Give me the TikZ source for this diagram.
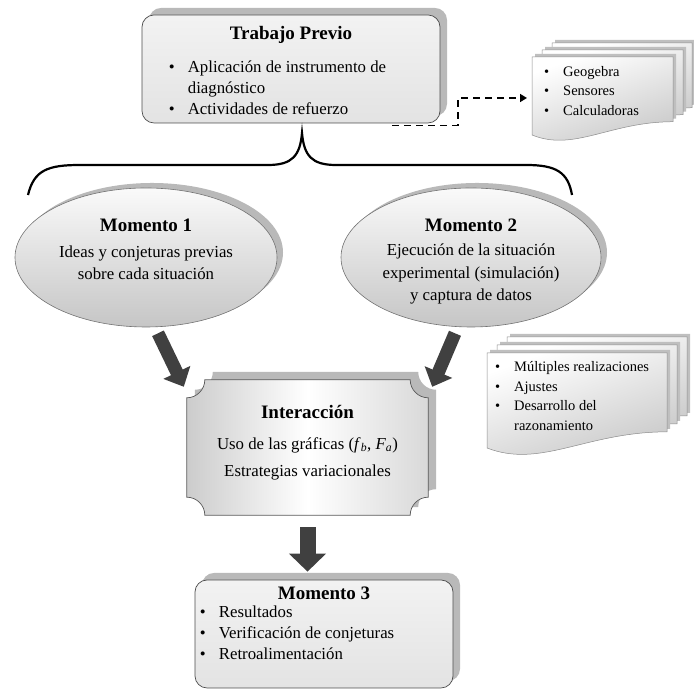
\documentclass[tikz,border=0pt]{standalone}
\usepackage{fontspec}
\setmainfont{Liberation Serif}
\usetikzlibrary{arrows.meta, positioning, shadows, shapes.geometric, calc}

\newcommand{\bul}{\makebox[19pt][l]{\textbullet}}
\newcommand{\sig}{\hspace*{19pt}}
\newcommand{\hoja}[4]{\draw[hoja] (#1,#2) -- ++(#3,0) -- ++(0,-0.83*#4) .. controls +(-0.45*#3,0) and +(0.3*#3,-0.22*#4) .. (#1,#2-#4) -- cycle;}

\begin{document}
\begin{tikzpicture}[x=1pt, y=1pt,
  every node/.style={inner sep=0pt, font=\fontsize{16.8}{21}\selectfont},
  titulo/.style={font=\fontsize{19}{22}\selectfont\bfseries},
  lista/.style={align=left, anchor=north west},
  listachica/.style={lista, font=\fontsize{14.5}{19.5}\selectfont},
  caja/.style={draw=black!70, line width=0.7pt, rounded corners=12pt, top color=gray!10, bottom color=gray!22, drop shadow={shadow xshift=7pt, shadow yshift=7pt, fill=gray!55, opacity=1}},
  ovalo/.style={ellipse, draw=black!55, line width=0.6pt, top color=gray!4, bottom color=gray!45, drop shadow={shadow xshift=6pt, shadow yshift=5pt, fill=gray!55, opacity=1}},
  placa/.style={draw=black!65, line width=0.7pt, left color=gray!40, right color=gray!30, middle color=white, drop shadow={shadow xshift=8pt, shadow yshift=8pt, fill=gray!55, opacity=1}},
  hoja/.style={draw=black!45, line width=0.5pt, top color=white, bottom color=gray!45, shading angle=20, drop shadow={shadow xshift=3pt, shadow yshift=3pt, fill=gray!50, opacity=1}},
  flecha/.style={line width=13pt, draw=black!75, -{Triangle[width=29pt,length=16pt]}},
  enlace/.style={dash pattern=on 7pt off 5pt, line width=1.6pt, -{Triangle[width=8pt,length=7pt]}}]
\useasboundingbox (0,0) rectangle (694,692);

\node[caja, minimum width=298pt, minimum height=108pt] (previo) at (291,623) {};
\node[titulo] (previoT) at ([yshift=-20pt]previo.north) {Trabajo Previo};
\node[lista] (previoL) at ([xshift=27pt, yshift=-46pt]previo.north west) {\bul Aplicación de instrumento de\\ \sig diagnóstico\\ \bul Actividades de refuerzo};

\hoja{552}{649}{140}{78}
\hoja{542}{642}{141}{78}
\hoja{532}{635}{141}{78}
\node[listachica] (geoL) at (544,626) {\bul Geogebra\\ \bul Sensores\\ \bul Calculadoras};
\coordinate (geoE) at (527,594);
\draw[enlace] ([xshift=-48pt, yshift=-2pt]previo.south east) -| ($(geoE)+(-69,0)$) -- (geoE);

\draw[line width=2.2pt] (28,497) .. controls (34,522) and (48,527) .. (80,527) -- (268,527) .. controls (292,527) and (300,536) .. (302,559) .. controls (304,536) and (312,527) .. (336,527) -- (526,527) .. controls (556,527) and (568,520) .. (572,497);

\node[ovalo, minimum width=262pt, minimum height=139pt] (m1) at (146,434.5) {};
\node[titulo] (m1T) at ([yshift=32.5pt]m1.center) {Momento 1};
\node[align=center, font=\fontsize{16.8}{22.5}\selectfont] (m1L) at ([yshift=-5.5pt]m1.center) {Ideas y conjeturas previas\\ sobre cada situación};
\node[ovalo, minimum width=260pt, minimum height=139pt] (m2) at (471,434.5) {};
\node[titulo] (m2T) at ([yshift=32.5pt]m2.center) {Momento 2};
\node[align=center, font=\fontsize{16.8}{22.5}\selectfont] (m2L) at ([yshift=-16.5pt]m2.center) {Ejecución de la situación\\ experimental (simulación)\\ y captura de datos};

\hoja{507}{355}{180}{95}
\hoja{497}{347}{180}{95}
\hoja{487}{339}{180}{95}
\node[listachica] (ajusL) at (495,330.4) {\bul Múltiples realizaciones\\ \bul Ajustes\\ \bul Desarrollo del\\ \sig razonamiento};

\node[minimum width=241pt, minimum height=135pt] (inter) at (307.5,244.5) {};
\draw[placa] ($(inter.north west)+(0,-18)$) arc[start angle=-90, end angle=0, radius=18] -- ($(inter.north east)+(-18,0)$) arc[start angle=180, end angle=270, radius=18] -- ($(inter.south east)+(0,18)$) arc[start angle=90, end angle=180, radius=18] -- ($(inter.south west)+(18,0)$) arc[start angle=0, end angle=90, radius=18] -- cycle;
\node[titulo] (interT) at ([yshift=-32pt]inter.north) {Interacción};
\node[align=center, font=\fontsize{16.8}{27}\selectfont] (interL) at ([yshift=-11pt]inter.center) {Uso de las gráficas (\textit{f}\textsubscript{\textit{b}}, \textit{F}\textsubscript{\textit{a}})\\ Estrategias variacionales};

\draw[flecha] ($(m1.south)+(12,-6)$) -- ($(inter.north west)+(-3,-7)$);
\draw[flecha] ($(m2.south)+(-16,-6)$) -- ($(inter.north east)+(4,-7)$);

\node[caja, minimum width=258pt, minimum height=108pt] (m3) at (324,58) {};
\node[titulo] (m3T) at ([yshift=-14pt]m3.north) {Momento 3};
\node[lista] (m3L) at ([xshift=5pt, yshift=-26.4pt]m3.north west) {\bul Resultados\\ \bul Verificación de conjeturas\\ \bul Retroalimentación};
\draw[flecha, line width=16pt, -{Triangle[width=36pt,length=18pt]}] ($(inter.south)+(0,-12)$) -- ($(inter.south |- m3.north)+(0,8)$);
\end{tikzpicture}
\end{document}
